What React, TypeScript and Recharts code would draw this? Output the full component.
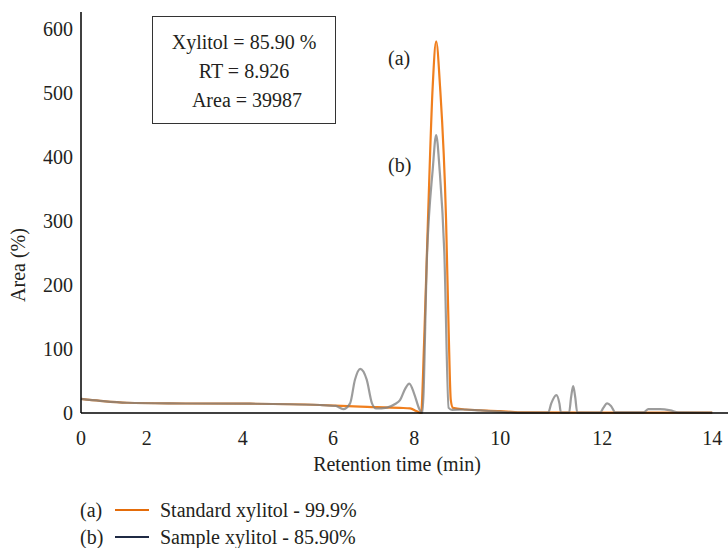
import { LineChart, Line, XAxis, YAxis } from "recharts";

// x axis of the original is a category axis, so the time labels are not evenly spaced
const labelTimes = [0, 2, 4, 6, 8, 10, 12, 14];
const labelSlots = [0, 14.6, 35.9, 55.9, 73.9, 93.0, 115.6, 140.0];
const axisEnd = 143.5;

const areaTicks = [0, 100, 200, 300, 400, 500, 600];

const standardTime = [0, 0.58, 1.39, 2.48, 4.16, 5.71, 6.67, 7.65, 7.9, 8.05, 8.16, 8.23, 8.32, 8.43, 8.51, 8.6, 8.74, 8.8, 8.85, 8.9, 9.2, 10.0, 10.39, 11.96, 14];
const standardArea = [22, 19, 16, 15, 14.5, 12.5, 10, 8, 7.3, 3, 0, 110, 302, 510, 580, 510, 302, 130, 20, 8, 5.5, 3, 1, 0.5, 0.5];

const sampleTime = [0, 0.58, 1.39, 2.48, 4.16, 5.71, 6.07, 6.25, 6.42, 6.54, 6.67, 6.83, 6.96, 7.06, 7.33, 7.53, 7.65, 7.78, 7.88, 8.0, 8.12, 8.19, 8.3, 8.43, 8.51, 8.59, 8.7, 8.8, 8.88, 9.14, 9.53, 10.0, 10.39, 10.94, 11.0, 11.1, 11.16, 11.19, 11.35, 11.39, 11.43, 11.47, 11.51, 11.96, 12.02, 12.09, 12.16, 12.24, 12.75, 12.84, 13.05, 13.24, 13.38, 14];
const sampleArea = [22, 19, 16, 15, 14.5, 12.5, 11, 6, 15, 52, 69, 52, 15, 7, 8.5, 14, 20, 38, 46, 30, 6, 0, 250, 380, 434, 380, 250, 8, 5, 5.5, 4, 2, 0.5, 0.5, 15, 28, 15, 0.5, 0.5, 25, 42, 25, 0.5, 0.5, 8, 15, 11, 1, 1, 6, 6, 4, 1, 0.5];

function toSlot(t: number) {
  for (let i = 1; i < labelTimes.length; i++) {
    if (t <= labelTimes[i]) {
      const f = (t - labelTimes[i - 1]) / (labelTimes[i] - labelTimes[i - 1]);
      return labelSlots[i - 1] + f * (labelSlots[i] - labelSlots[i - 1]);
    }
  }
  return labelSlots[labelSlots.length - 1];
}

const standardData = standardTime.map((t, i) => ({ t, area: standardArea[i] }));
const sampleData = sampleTime.map((t, i) => ({ t, area: sampleArea[i] }));

const font = "'Liberation Serif', 'DejaVu Serif', serif";
const textColor = "#231f20";
const fs = 20;

export default function App() {
  return (
    <div style={{ position: "absolute", left: 0, top: 0, width: 728, height: 548, background: "#fff", fontFamily: font, color: textColor, overflow: "hidden" }}>
      <LineChart width={728} height={548} margin={{ top: 12, right: 0, left: 0, bottom: 75 }}>
        <XAxis
          type="number"
          dataKey={(d: { t: number }) => toSlot(d.t)}
          domain={[0, axisEnd]}
          ticks={labelSlots}
          tickFormatter={(v: number) => String(labelTimes[labelSlots.indexOf(v)])}
          tickLine={false}
          tickMargin={12}
          axisLine={{ stroke: "#000", strokeWidth: 1.5 }}
          tick={{ fontSize: fs, fill: textColor, fontFamily: font }}
          height={60}
        />
        <YAxis
          type="number"
          domain={[0, 626]}
          ticks={areaTicks}
          width={81}
          tickLine={false}
          axisLine={{ stroke: "#000", strokeWidth: 1.5 }}
          tick={{ fontSize: fs, fill: textColor, fontFamily: font }}
        />
        <Line data={standardData} dataKey="area" type="monotone" stroke="#f07f1e" strokeWidth={2.2} dot={false} isAnimationActive={false} />
        <Line data={sampleData} dataKey="area" type="monotone" stroke="#808080" strokeOpacity={0.78} strokeWidth={2.2} dot={false} isAnimationActive={false} />
      </LineChart>

      {/* axis titles */}
      <div style={{ position: "absolute", left: 297, width: 200, top: 453, fontSize: fs, textAlign: "center" }}>Retention time (min)</div>
      <div style={{ position: "absolute", left: 18, top: 265, fontSize: fs, whiteSpace: "nowrap", transform: "translate(-50%, -50%) rotate(-90deg)" }}>Area (%)</div>

      <div style={{ position: "absolute", left: 152, top: 16, width: 184, height: 108, border: "1.5px solid #333", boxSizing: "border-box", fontSize: fs, textAlign: "center" }}>
        <div style={{ position: "absolute", left: 0, right: 0, top: 14 }}>Xylitol = 85.90 %</div>
        <div style={{ position: "absolute", left: 0, right: 0, top: 43 }}>RT = 8.926</div>
        <div style={{ position: "absolute", left: 6, right: 0, top: 72 }}>Area = 39987</div>
      </div>

      <div style={{ position: "absolute", left: 388, top: 47, fontSize: fs }}>(a)</div>
      <div style={{ position: "absolute", left: 388, top: 154, fontSize: fs }}>(b)</div>

      <div style={{ position: "absolute", left: 80, top: 498, fontSize: fs, display: "flex", alignItems: "center", height: 24 }}>
        <span style={{ width: 35 }}>(a)</span>
        <span style={{ width: 34, height: 2, background: "#e46c0a", marginRight: 11 }} />
        <span>Standard xylitol - 99.9%</span>
      </div>
      <div style={{ position: "absolute", left: 80, top: 525, fontSize: fs, display: "flex", alignItems: "center", height: 24 }}>
        <span style={{ width: 35 }}>(b)</span>
        <span style={{ width: 34, height: 2, background: "#1f2a44", marginRight: 11 }} />
        <span>Sample xylitol - 85.90%</span>
      </div>
    </div>
  );
}
